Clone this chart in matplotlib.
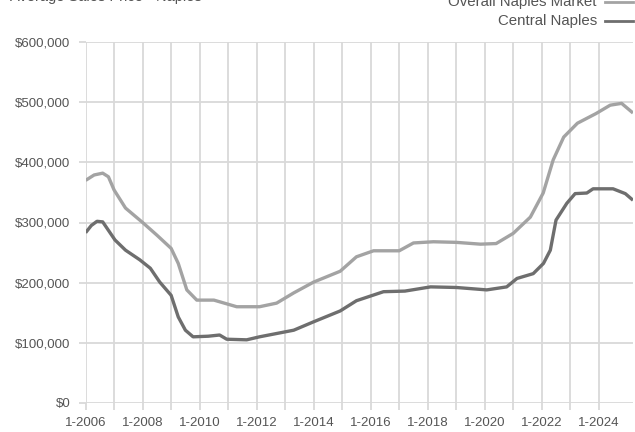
import matplotlib.pyplot as plt
from matplotlib.lines import Line2D
from matplotlib.ticker import FuncFormatter
import numpy as np

# Preço médio (valores lidos em anos decimais)
anos_geral = [2006.0, 2006.3, 2006.6, 2006.8, 2007.0, 2007.4, 2008.0, 2008.5, 2009.0,
              2009.25, 2009.55, 2009.9, 2010.5, 2011.3, 2012.1, 2012.7, 2013.3, 2014.0,
              2014.93, 2015.5, 2016.1, 2017.0, 2017.5, 2018.2, 2019.0, 2019.85, 2020.4,
              2021.0, 2021.6, 2022.05, 2022.4, 2022.77, 2023.25, 2023.9, 2024.4, 2024.8,
              2025.2]
preco_geral = [370000, 379000, 382000, 376000, 354000, 324000, 300000, 279000, 257000,
               232000, 188000, 171000, 171000, 160000, 160000, 166000, 183000, 201000,
               219000, 243000, 253000, 253000, 266000, 268000, 267000, 264000, 265000,
               282000, 309000, 349000, 404000, 442000, 465000, 481000, 495000, 498000,
               482000]

anos_central = [2006.0, 2006.2, 2006.4, 2006.6, 2007.03, 2007.4, 2007.9, 2008.27, 2008.6,
                2009.0, 2009.25, 2009.5, 2009.77, 2010.3, 2010.7, 2010.95, 2011.65, 2012.1,
                2013.3, 2014.0, 2014.93, 2015.5, 2016.45, 2017.2, 2018.1, 2019.0, 2020.07,
                2020.77, 2021.13, 2021.7, 2022.06, 2022.3, 2022.5, 2022.88, 2023.17,
                2023.58, 2023.8, 2024.5, 2024.93, 2025.2]
preco_central = [283000, 295000, 302000, 301000, 271000, 254000, 238000, 224000, 201000,
                 179000, 143000, 121000, 110000, 111000, 113000, 106000, 105000, 110000,
                 121000, 135000, 153000, 170000, 185000, 186000, 193000, 192000, 188000,
                 193000, 207000, 215000, 232000, 254000, 304000, 332000, 348000,
                 349000, 356000, 356000, 348000, 337000]

rotulo_geral = 'Overall Naples Market'
rotulo_central = 'Central Naples'
anos_ticks = np.arange(2006, 2025)
ticks_y = [0, 100000, 200000, 300000, 400000, 500000, 600000]

cor_geral = '#a3a3a3'
cor_central = '#6e6e6e'
cor_grade = '#d9d9d9'
cor_texto = '#555555'

plt.rcParams['font.family'] = ['Liberation Sans', 'DejaVu Sans']

fig = plt.figure(figsize=(6.35, 4.32), dpi=100)
ax = fig.add_axes([85.6 / 635, 1 - 403 / 432, (633 - 85.6) / 635, (403 - 42) / 432])

ax.plot(anos_geral, preco_geral, color=cor_geral, lw=2.4, solid_capstyle='butt', zorder=3)
ax.plot(anos_central, preco_central, color=cor_central, lw=2.4, solid_capstyle='butt', zorder=3)

ax.set_xlim(2006, 2025.2)
ax.set_ylim(0, 600000)
ax.set_xticks(anos_ticks)
ax.set_xticklabels([f'1-{a}' if (a - 2006) % 2 == 0 else '' for a in anos_ticks])
ax.set_yticks(ticks_y)
ax.yaxis.set_major_formatter(FuncFormatter(lambda v, p: f'${v:,.0f}'))

ax.grid(True, color=cor_grade, lw=1.3, zorder=0)
for lado in ax.spines.values():
    lado.set_visible(False)
ax.tick_params(axis='both', length=5, width=1.3, color=cor_grade,
               labelcolor=cor_texto, labelsize=9.5)
ax.tick_params(axis='y', pad=6)
ax.tick_params(axis='x', pad=5)

# Legenda manual no canto superior direito
W, H = 635, 432
for y_px, rotulo, cor in [(2, rotulo_geral, cor_geral), (20.5, rotulo_central, cor_central)]:
    fig.text(597 / W, 1 - y_px / H, rotulo, ha='right', va='center',
             fontsize=10.8, color=cor_texto)
    fig.add_artist(Line2D([605 / W, 633 / W], [1 - y_px / H, 1 - y_px / H],
                          color=cor, lw=2.0, transform=fig.transFigure))

fig.text(10 / W, 1 - 1.5 / H, 'Average Sales Price - Naples', ha='left',
         va='baseline', fontsize=10.5, color=cor_texto)

plt.savefig('out.png', dpi=100)
plt.close()
